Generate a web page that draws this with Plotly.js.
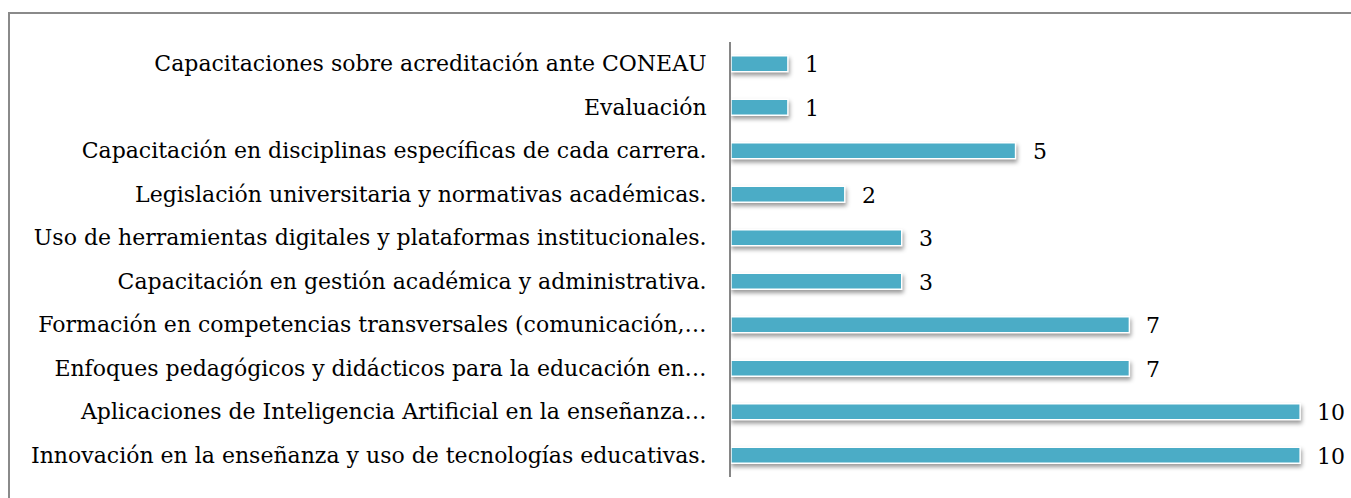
<!DOCTYPE html>
<html>
<head>
<meta charset="utf-8">
<script src="https://cdn.plot.ly/plotly-3.0.1.min.js"></script>
<style>
  html, body { margin: 0; padding: 0; background: #fff; }
  #wrap { position: relative; width: 1351px; height: 498px; overflow: hidden; }
  #chart { position: absolute; left: 0; top: 0; width: 1351px; height: 498px; }
  #frame { position: absolute; left: 8px; top: 12px; width: 1400px; height: 600px;
           border: 2px solid #8a8a8a; box-sizing: border-box; pointer-events: none; }
  .trace.bars .point path { filter: drop-shadow(1px 3px 2px rgba(0,0,0,0.4)); }
</style>
</head>
<body>
<div id="wrap">
  <div id="chart"></div>
  <div id="frame"></div>
</div>
<script>
// Categories listed top to bottom
const categories = [
  "Capacitaciones sobre acreditación ante CONEAU",
  "Evaluación",
  "Capacitación en disciplinas específicas de cada carrera.",
  "Legislación universitaria y normativas académicas.",
  "Uso de herramientas digitales y plataformas institucionales.",
  "Capacitación en gestión académica y administrativa.",
  "Formación en competencias transversales (comunicación,…",
  "Enfoques pedagógicos y didácticos para la educación en…",
  "Aplicaciones de Inteligencia Artificial en la enseñanza…",
  "Innovación en la enseñanza y uso de tecnologías educativas."
];
const values = [1, 1, 5, 2, 3, 3, 7, 7, 10, 10];

const FONT = "'DejaVu Serif', 'Liberation Serif', serif";

const trace = {
  type: 'bar',
  orientation: 'h',
  x: values,
  y: categories,
  marker: { color: '#4BACC6', line: { color: '#ffffff', width: 1.5 } },
  hoverinfo: 'none'
};

const annotations = values.map((v, i) => ({
  x: v, y: categories[i], xref: 'x', yref: 'y',
  text: String(v), showarrow: false, xanchor: 'left', yanchor: 'middle',
  xshift: 15, yshift: -1, font: { family: FONT, size: 22, color: '#000' }
}));

const layout = {
  width: 1351, height: 498,
  margin: { l: 731, r: 11, t: 42, b: 21, pad: 0 },
  paper_bgcolor: '#fff', plot_bgcolor: '#fff',
  bargap: 0.63,
  showlegend: false,
  xaxis: { range: [0, 10.7], showgrid: false, zeroline: false, showline: false,
           showticklabels: false, ticks: '', fixedrange: true },
  yaxis: { autorange: 'reversed', showgrid: false, zeroline: false,
           showline: true, linecolor: '#868686', linewidth: 2, ticks: '',
           ticklabelstandoff: 18,
           tickfont: { family: FONT, size: 22, color: '#000' }, fixedrange: true },
  annotations: annotations
};

Plotly.newPlot('chart', [trace], layout, { displayModeBar: false, staticPlot: true });
</script>
</body>
</html>
